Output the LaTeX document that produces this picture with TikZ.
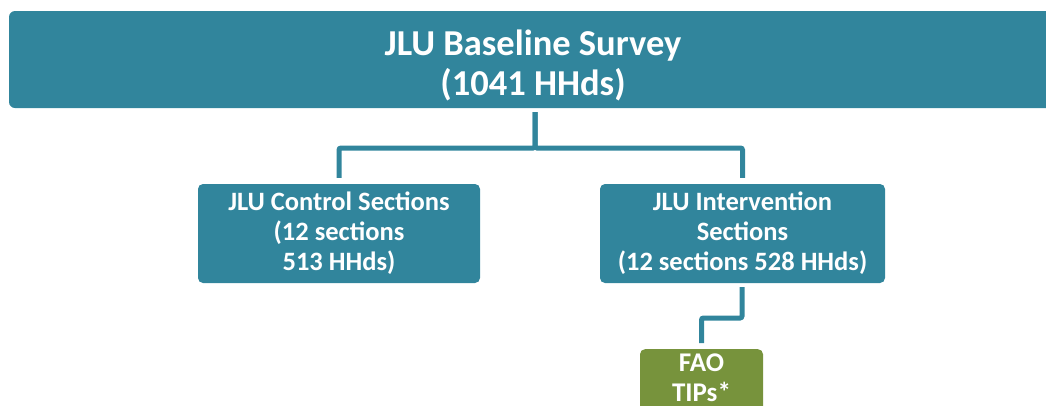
\documentclass[tikz,border=0pt]{standalone}
\usepackage{fontspec}
\setmainfont{Carlito}
\usetikzlibrary{positioning, calc}
\definecolor{boxteal}{HTML}{31859C}
\definecolor{boxgreen}{HTML}{77933C}
\tikzset{
  survey/.style={fill=boxteal, rounded corners=6pt, inner sep=0pt},
  surveytext/.style={text=white, align=center, inner sep=0pt,
                     font=\fontsize{36.5}{40}\selectfont\bfseries},
  arm/.style={fill=boxteal, rounded corners=5pt, text=white, align=center,
              font=\fontsize{26.5}{30}\selectfont\bfseries, inner sep=0pt},
  tips/.style={fill=boxgreen, rounded corners=5pt, text=white, align=center,
               font=\fontsize{27}{30}\selectfont\bfseries, inner xsep=0pt, inner ysep=5pt},
  link/.style={draw=boxteal, line width=5pt, rounded corners=2pt,
               shorten <=4pt, shorten >=6pt},
}
\begin{document}
\begin{tikzpicture}[x=1pt, y=-1pt]
  \clip (0,0) rectangle (1046,405);
  \useasboundingbox (0,0) rectangle (1046,405);
  \node[survey, minimum width=1046pt, minimum height=97pt] (survey) at (532,59.5) {};
  \node[surveytext] (surveylbl) at (533,65.5) {JLU Baseline Survey\\(1041 HHds)};
  \node[arm, minimum width=282pt, minimum height=99pt] (ctrl) at (339,233.5)
    {JLU Control Sections\\(12 sections\\513 HHds)};
  \node[arm, minimum width=285pt, minimum height=99pt] (intv) at (742.5,233.5)
    {JLU Intervention\\Sections\\(12 sections 528 HHds)};
  \node[tips, minimum width=123pt, anchor=north] (fao) at (701.5,349)
    {FAO\\TIPs*\\~};
  \coordinate (hub) at (535,148);
  \coordinate (bend) at (742,318);
  % survey splits into the two arms
  \draw[link] (survey.south -| hub) -- (hub) -| (ctrl.north);
  \draw[link] (survey.south -| hub) -- (hub) -| (intv.north);
  % intervention arm feeds the TIPs
  \draw[link] (intv.south -| bend) -- (bend) -| (fao.north);
\end{tikzpicture}
\end{document}
